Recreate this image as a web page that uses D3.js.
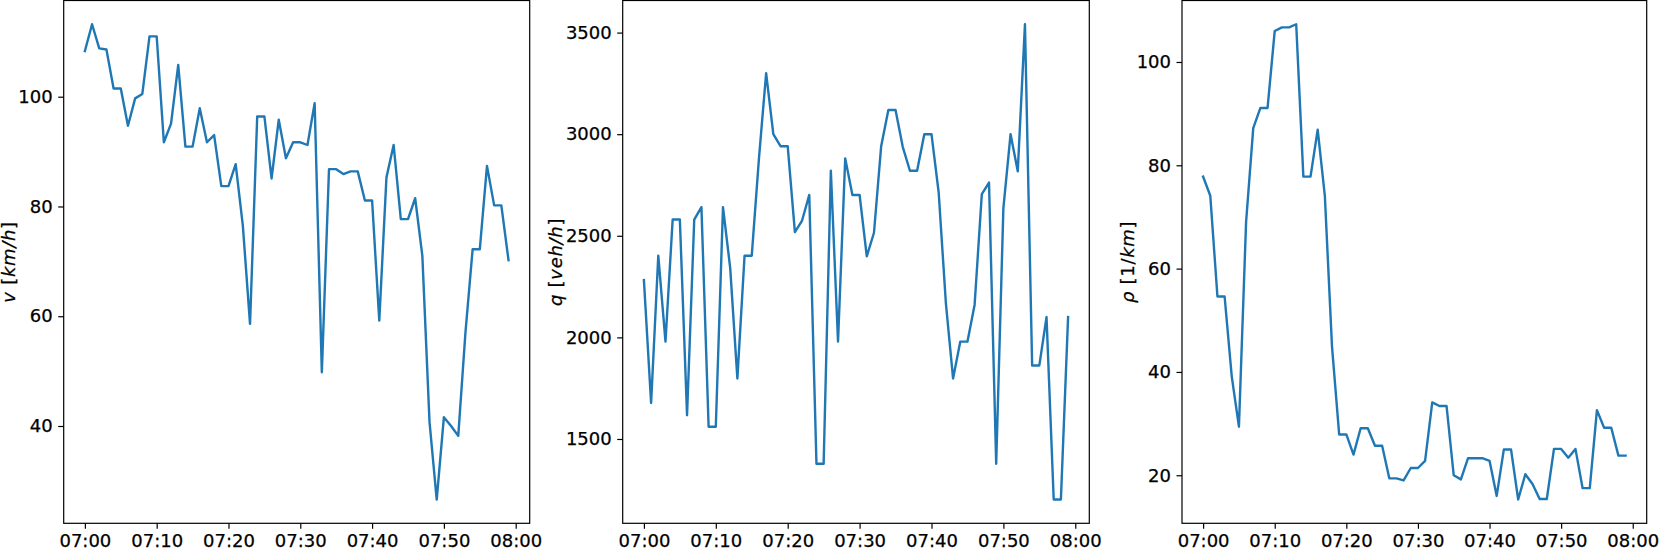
<!DOCTYPE html>
<html>
<head>
<meta charset="utf-8">
<script src="https://cdn.jsdelivr.net/npm/d3@7"></script>
<style>
  body { margin: 0; background: #fff; }
  svg { display: block; font-family: "DejaVu Sans", sans-serif; }
  .tick text { font-size: 18px; fill: #000; stroke: #000; stroke-width: 0.25; }
  .tick line { stroke: #000; stroke-width: 1.2; }
</style>
</head>
<body>
<svg id="chart"></svg>
<script>
// one reading per minute, 07:00 .. 07:59
const startTime = "07:00";
const xTickLabels = ["07:00", "07:10", "07:20", "07:30", "07:40", "07:50", "08:00"];

const speed = [108.3, 113.2, 108.8, 108.6, 101.5, 101.5, 94.7, 99.7, 100.5, 111.0,
  111.0, 91.7, 95.1, 105.8, 90.9, 90.9, 97.9, 91.7, 93.0, 83.7,
  83.7, 87.7, 76.5, 58.6, 96.4, 96.4, 85.1, 95.8, 88.8, 91.7,
  91.7, 91.2, 98.8, 49.8, 86.8, 86.8, 85.9, 86.4, 86.4, 81.1,
  81.1, 59.2, 85.3, 91.2, 77.7, 77.7, 81.5, 71.0, 40.7, 26.6,
  41.6, 40.0, 38.2, 57.0, 72.2, 72.2, 87.4, 80.2, 80.2, 70.2];

const flow = [2282, 1677, 2402, 1979, 2580, 2580, 1617, 2580, 2641, 1560,
  1560, 2641, 2342, 1798, 2402, 2402, 2880, 3300, 3000, 2941,
  2941, 2518, 2575, 2701, 1378, 1378, 2820, 1979, 2881, 2701,
  2701, 2399, 2515, 2941, 3119, 3119, 2938, 2820, 2820, 3000,
  3000, 2713, 2169, 1798, 1979, 1979, 2161, 2705, 2762, 1378,
  2636, 3000, 2817, 3541, 1862, 1862, 2100, 1202, 1202, 2100];

const density = [77.8, 74.1, 54.6, 54.6, 39.1, 29.4, 69.0, 87.2, 91.1, 91.1,
  106.0, 106.7, 106.7, 107.3, 77.8, 77.8, 86.9, 74.1, 44.9, 27.9,
  27.9, 24.0, 29.1, 29.1, 25.7, 25.7, 19.4, 19.4, 19.0, 21.4,
  21.4, 22.8, 34.1, 33.4, 33.4, 20.0, 19.2, 23.3, 23.3, 23.3,
  22.8, 16.0, 25.0, 25.0, 15.3, 20.2, 18.3, 15.4, 15.4, 25.1,
  25.1, 23.4, 25.1, 17.5, 17.5, 32.6, 29.2, 29.2, 23.8, 23.8];

const speedTicks = [40, 60, 80, 100];
const flowTicks = [1500, 2000, 2500, 3000, 3500];
const densityTicks = [20, 40, 60, 80, 100];

const width = 1661, height = 552;
const plotTop = 0.5, plotBottom = 523.3;

const parse = d3.timeParse("%H:%M");
const t0 = parse(startTime);
const times = speed.map((_, i) => d3.timeMinute.offset(t0, i));
const xTicks = xTickLabels.map(parse);

const panels = [
  { values: speed, ticks: speedTicks, left: 63.7, right: 529.7, labelX: 15,
    label: [["v", true], [" [", false], ["km/h", true], ["]", false]] },
  { values: flow, ticks: flowTicks, left: 622.7, right: 1089.3, labelX: 561.5,
    label: [["q", true], [" [", false], ["veh/h", true], ["]", false]] },
  { values: density, ticks: densityTicks, left: 1182, right: 1646.7, labelX: 1134,
    label: [["ρ", true], [" [1/", false], ["km", true], ["]", false]] }
];

const svg = d3.select("#chart")
  .attr("width", width)
  .attr("height", height);

panels.forEach(p => {
  // matplotlib-ish 5% margins
  const tPad = (times[times.length - 1] - times[0]) * 0.05;
  const x = d3.scaleTime()
    .domain([new Date(+times[0] - tPad), new Date(+times[times.length - 1] + tPad)])
    .range([p.left, p.right]);

  const [lo, hi] = d3.extent(p.values);
  const yPad = (hi - lo) * 0.05;
  const y = d3.scaleLinear()
    .domain([lo - yPad, hi + yPad])
    .range([plotBottom, plotTop]);

  const line = d3.line()
    .x((d, i) => x(times[i]))
    .y(d => y(d));

  svg.append("path")
    .datum(p.values)
    .attr("fill", "none")
    .attr("stroke", "#1f77b4")
    .attr("stroke-width", 2.4)
    .attr("stroke-linejoin", "round")
    .attr("stroke-linecap", "square")
    .attr("d", line);

  svg.append("g")
    .attr("transform", `translate(0,${plotBottom})`)
    .call(d3.axisBottom(x)
      .tickValues(xTicks)
      .tickFormat(d3.timeFormat("%H:%M"))
      .tickSize(5.5)
      .tickPadding(5.5))
    .call(g => g.select(".domain").remove())
    .call(g => g.attr("font-family", null).attr("font-size", null));

  svg.append("g")
    .attr("transform", `translate(${p.left},0)`)
    .call(d3.axisLeft(y)
      .tickValues(p.ticks)
      .tickFormat(d3.format("d"))
      .tickSize(5.5)
      .tickPadding(5.5))
    .call(g => g.select(".domain").remove())
    .call(g => g.attr("font-family", null).attr("font-size", null));

  // frame
  svg.append("rect")
    .attr("x", p.left)
    .attr("y", plotTop)
    .attr("width", p.right - p.left)
    .attr("height", plotBottom - plotTop)
    .attr("fill", "none")
    .attr("stroke", "#000")
    .attr("stroke-width", 1.2);

  const lab = svg.append("text")
    .attr("transform", `translate(${p.labelX},${(plotTop + plotBottom) / 2}) rotate(-90)`)
    .attr("text-anchor", "middle")
    .style("font-size", "18px")
    .style("letter-spacing", "0.7px")
    .attr("fill", "#000")
    .attr("stroke", "#000")
    .attr("stroke-width", 0.25);
  p.label.forEach(([s, it]) => {
    lab.append("tspan")
      .attr("font-style", it ? "italic" : "normal")
      .text(s);
  });
});
</script>
</body>
</html>
